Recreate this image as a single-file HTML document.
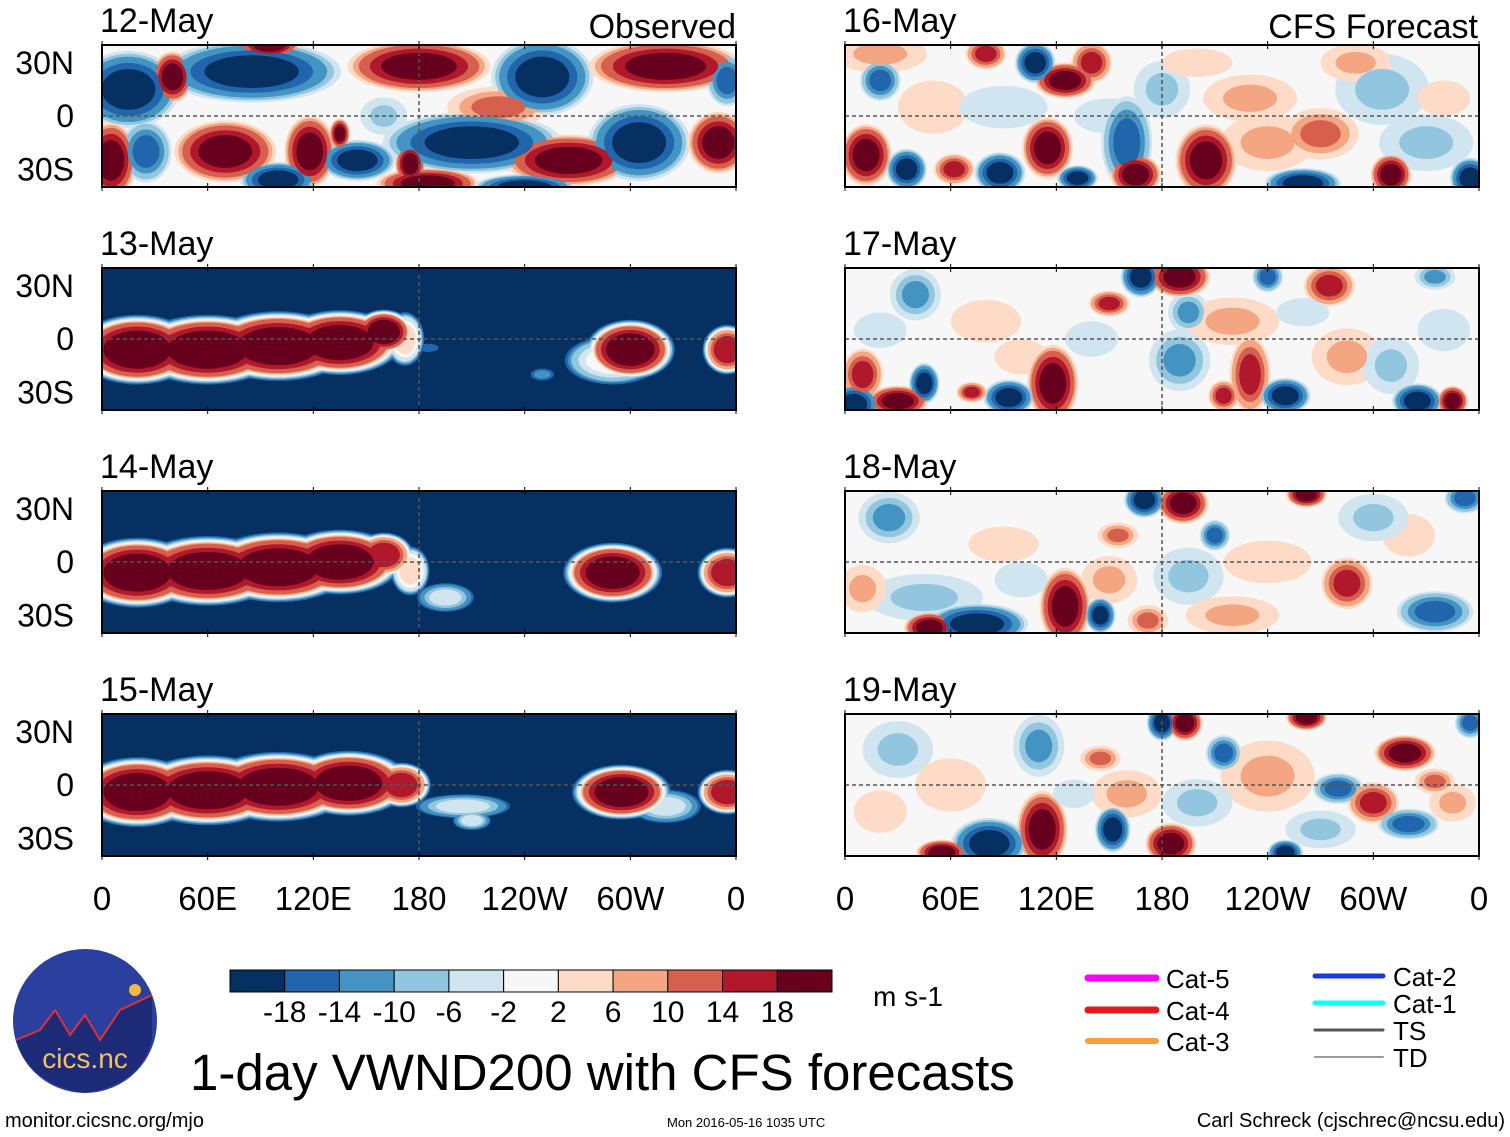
<!DOCTYPE html>
<html><head><meta charset="utf-8"><style>
body{margin:0;background:#fff;}
svg{display:block;font-family:"Liberation Sans",Arial,sans-serif;}
</style></head><body>
<svg id="c" width="1510" height="1137" viewBox="0 0 1510 1137" xmlns="http://www.w3.org/2000/svg"></svg>
<script>
const colorLevels=[-18,-14,-10,-6,-2,2,6,10,14,18];
const colors=["#053061","#2166ac","#4393c3","#92c5de","#d1e5f0","#f7f7f7","#fddbc7","#f4a582","#d6604d","#b2182b","#67001f"];
const panelDates=["12-May","13-May","14-May","15-May","16-May","17-May","18-May","19-May"];
const lonTicks=["0","60E","120E","180","120W","60W","0"];
const latTicks=["30N","0","30S"];
const panelBackground=[0,-22,-22,-22,0,0,0,0];
// blobs: [lon, lat, value, lonRadius, latRadius]
const panelBlobs=[
 [[15,15,-22,20,15],[40,22,20,8,10],[85,25,-22,35,12],[95,40,20,12,5],[180,28,22,28,10],[250,22,-22,20,15],[320,28,22,30,10],[355,20,-18,8,10],
  [5,-25,22,10,15],[25,-20,-16,10,12],[70,-20,20,20,12],[118,-20,20,10,14],[100,-36,-22,15,7],[145,-25,-20,15,8],[175,-27,22,6,8],
  [210,-15,-22,35,12],[185,-38,22,20,6],[265,-25,22,25,10],[305,-15,-22,20,15],[350,-15,20,12,12],[240,-40,-20,20,5],[135,-10,20,4,6],[225,5,12,20,8],[160,0,-8,10,8]],
 [[20,-6,24,25,14],[60,-6,24,30,14],[100,-4,24,30,14],[135,-2,24,25,13],[160,4,22,12,9],[172,0,8,8,11],[300,-6,22,18,12],[290,-12,4,20,10],[355,-6,18,10,10],[185,-5,-12,8,3],[250,-20,-10,6,3]],
 [[20,-6,24,25,14],[60,-5,24,30,14],[100,-3,24,30,14],[135,0,24,25,13],[160,4,20,12,9],[175,-5,8,8,10],[195,-20,-2,12,6],[290,-6,22,20,12],[355,-6,18,12,10]],
 [[20,-4,24,25,14],[60,-3,24,30,14],[100,-1,24,30,14],[140,1,24,25,13],[170,0,18,12,9],[205,-12,-2,20,5],[210,-20,-2,8,4],[295,-4,22,20,11],[320,-12,-2,15,7],[355,-4,18,12,9]],
 [[125,20,20,12,7],[140,30,18,8,8],[108,30,-22,8,8],[80,35,18,8,6],[20,20,-16,8,8],[160,-15,-18,10,18],[115,-18,20,10,12],[12,-22,20,10,12],[35,-30,-20,8,8],
  [62,-30,18,8,6],[88,-32,-22,10,8],[132,-35,-20,8,5],[165,-33,22,10,8],[205,-25,20,12,14],[260,-38,-20,15,6],[310,-33,22,8,8],[355,-35,-22,8,8],
  [270,-10,14,15,10],[305,15,-10,20,15],[50,5,6,20,15],[230,10,8,20,10],[180,15,-8,12,12],[340,10,6,15,10],
  [90,5,-6,25,12],[150,0,-6,20,10],[240,-15,8,20,12],[330,-15,-8,20,12],[20,35,8,20,8],[200,30,6,20,8],[290,30,8,15,8]],
 [[168,35,-22,8,8],[190,35,22,12,8],[150,20,18,8,5],[195,15,-14,8,8],[190,-12,-14,12,12],[118,-25,22,10,15],[93,-33,-22,10,7],[72,-30,16,6,4],[45,-25,-22,6,8],
  [30,-35,22,12,6],[5,-37,-22,10,8],[10,-20,18,8,10],[230,-20,18,8,15],[250,-32,-22,10,7],[215,-32,18,6,6],[325,-35,-22,10,7],[345,-35,20,6,6],[275,30,16,10,8],
  [240,35,-18,6,6],[335,35,-14,8,5],[285,-10,10,15,12],[310,-15,-10,12,12],[40,25,-12,10,10],[80,10,6,20,12],[140,0,-6,15,10],
  [220,10,8,20,10],[100,-10,6,15,10],[340,5,-6,15,12],[20,5,-6,15,10],[260,15,-6,15,8]],
 [[170,35,-22,8,7],[192,33,22,10,8],[210,15,-16,6,6],[125,-25,22,10,15],[145,-30,-20,6,7],[75,-35,-22,20,8],[48,-37,22,10,6],[45,-20,-10,25,10],[172,-33,14,8,6],
  [335,-28,-18,15,8],[285,-12,16,10,10],[262,38,20,8,5],[352,36,-18,8,6],[155,15,12,8,5],[195,-8,-8,15,12],[25,25,-12,12,10],[240,0,6,25,12],[320,15,6,15,12],[90,10,4,20,10],
  [300,25,-8,15,10],[100,-10,-6,15,10],[10,-15,8,10,10],[220,-30,8,20,8],[150,-10,8,12,10]],
 [[180,35,-20,6,7],[193,35,22,7,7],[112,-25,22,10,15],[82,-33,-22,15,10],[55,-38,20,10,5],[152,-25,-20,7,9],[185,-33,22,10,8],[250,-38,-20,7,5],[215,18,-16,7,7],
  [318,18,20,12,7],[280,-2,-16,10,6],[300,-10,16,10,8],[320,-22,-16,12,6],[335,2,14,8,5],[110,22,-14,10,12],[145,15,12,8,5],[262,38,20,8,5],[355,35,-16,6,6],
  [240,5,8,20,15],[30,20,-8,15,12],[60,0,4,20,15],[200,-10,-8,15,10],
  [160,-5,8,15,10],[130,-5,-6,12,8],[270,-25,-8,15,8],[20,-15,6,15,12],[345,-10,8,10,8]]
];
const svg=document.getElementById('c');
const NS="http://www.w3.org/2000/svg";
function el(t,a,p){const e=document.createElementNS(NS,t);for(const k in a)e.setAttribute(k,a[k]);(p||svg).appendChild(e);return e;}
function colorFor(v){let i=0;while(i<colorLevels.length&&v>colorLevels[i])i++;return colors[i];}
const px=[102,845],pw=634,py=[45,268,491,714],ph=142;
function panelGeom(i){return {x:px[Math.floor(i/4)],y:py[i%4]};}
function xScale(g,lon){return g.x+lon/360*pw;}
function yScale(g,lat){return g.y+ph/2-lat/80*ph;}
const defs=el('defs',{});
for(let i=0;i<8;i++){
 const g=panelGeom(i);
 const cp=el('clipPath',{id:'cp'+i},defs);el('rect',{x:g.x,y:g.y,width:pw,height:ph},cp);
 const grp=el('g',{'clip-path':'url(#cp'+i+')'});
 
 
 const bg=panelBackground[i];
 el('rect',{x:g.x,y:g.y,width:pw,height:ph,fill:colorFor(bg)},grp);
 const rings=[];
 panelBlobs[i].forEach(b=>{
  const v=b[2];
  const dir=v>bg?1:-1;
  const steps=[];
  for(let L=bg+dir*4;dir>0?L<=v:L>=v;L+=dir*4)steps.push(L);
  if(!steps.length)steps.push(v);
  const n=steps.length;
  steps.forEach((L,k)=>{
   const f=n>1?1+0.45*(n-1-k)/(n-1)-0.35*Math.max(0,(k-(n-3)))/3:1;
   rings.push({b:b,L:L,f:f,d:Math.abs(L-bg)});
  });
 });
 rings.sort((a,b)=>a.d-b.d);
 rings.forEach(r=>{
  const b=r.b;
  const e=el('ellipse',{cx:xScale(g,b[0]),cy:yScale(g,b[1]),rx:b[3]/360*pw*r.f,ry:b[4]/80*ph*r.f,fill:colorFor(r.L)},grp);
  
  
 });
 el('line',{x1:g.x,x2:g.x+pw,y1:yScale(g,0),y2:yScale(g,0),stroke:'#555','stroke-dasharray':'4,3','stroke-width':1.5},grp);
 el('line',{x1:xScale(g,180),x2:xScale(g,180),y1:g.y,y2:g.y+ph,stroke:'#555','stroke-dasharray':'4,3','stroke-width':1.5},grp);
 const fr=el('rect',{x:g.x,y:g.y,width:pw,height:ph,fill:'none',stroke:'#000','stroke-width':2});
 
 
 for(let t=0;t<=6;t++){const x=xScale(g,t*60);el('line',{x1:x,x2:x,y1:g.y-4,y2:g.y+4,stroke:'#000'});el('line',{x1:x,x2:x,y1:g.y+ph-4,y2:g.y+ph+4,stroke:'#000'});}
 const tt=el('text',{x:g.x-2,y:g.y-13,'font-size':34});tt.textContent=panelDates[i];
 
 
 if(i<4){latTicks.forEach((l,k)=>{const t=el('text',{x:74,y:yScale(g,30-30*k)+11,'font-size':32,'text-anchor':'end'});t.textContent=l;
  
  });}
 if(i%4==3){lonTicks.forEach((l,k)=>{const t=el('text',{x:xScale(g,k*60),y:910,'font-size':33,'text-anchor':'middle'});t.textContent=l;
  
  });}
}
let t=el('text',{x:736,y:38,'font-size':34,'text-anchor':'end'});t.textContent="Observed";

t=el('text',{x:1478,y:38,'font-size':34,'text-anchor':'end'});t.textContent="CFS Forecast";

const cbx=230,cbw=602/11;
colors.forEach((c,k)=>{const r=el('rect',{x:cbx+k*cbw,y:970,width:cbw,height:22,fill:c,stroke:'#000','stroke-width':1});
 });
colorLevels.forEach((v,k)=>{const tx=el('text',{x:cbx+(k+1)*cbw,y:1022,'font-size':30,'text-anchor':'middle'});tx.textContent=v;
 });
t=el('text',{x:873,y:1006,'font-size':28});t.textContent="m s-1";

let lg=el('ellipse',{cx:85,cy:1021,rx:72,ry:72,fill:'#2a3f9e'});

el('path',{d:'M16 1040 L40 1030 L55 1010 L70 1035 L85 1015 L100 1040 L120 1010 L152 995 L152 1040 Q140 1085 85 1093 Q30 1085 16 1040 Z',fill:'#1c2a78'});
el('path',{d:'M16 1040 L40 1030 L55 1010 L70 1035 L85 1015 L100 1040 L120 1010 L152 995',fill:'none',stroke:'#d33','stroke-width':2});
el('circle',{cx:135,cy:990,r:6,fill:'#f5b942'});
t=el('text',{x:85,y:1068,'font-size':28,'text-anchor':'middle',fill:'#f5c060'});t.textContent="cics.nc";

t=el('text',{x:190,y:1090,'font-size':51});t.textContent="1-day VWND200 with CFS forecasts";

t=el('text',{x:5,y:1127,'font-size':20});t.textContent="monitor.cicsnc.org/mjo";

t=el('text',{x:667,y:1127,'font-size':13});t.textContent="Mon 2016-05-16 1035 UTC";

t=el('text',{x:1505,y:1127,'font-size':20,'text-anchor':'end'});t.textContent="Carl Schreck (cjschrec@ncsu.edu)";

const legNames=["Cat-5","Cat-4","Cat-3","Cat-2","Cat-1","TS","TD"];
const legColors=["#f0f","#e31a1c","#f5a040","#1a3adb","#1ff","#555","#999"];
const legWidths=[7,7,6,5,5,3,2];
const legY=[978,1010,1041,976,1003,1030,1057];
legNames.forEach((n,k)=>{const x=k<3?1088:1315;
 const ln=el('line',{x1:x,x2:x+68,y1:legY[k],y2:legY[k],stroke:legColors[k],'stroke-width':legWidths[k],'stroke-linecap':'round'});
 
 const tx=el('text',{x:x+78,y:legY[k]+10,'font-size':26});tx.textContent=n;
 });
</script>
</body></html>
